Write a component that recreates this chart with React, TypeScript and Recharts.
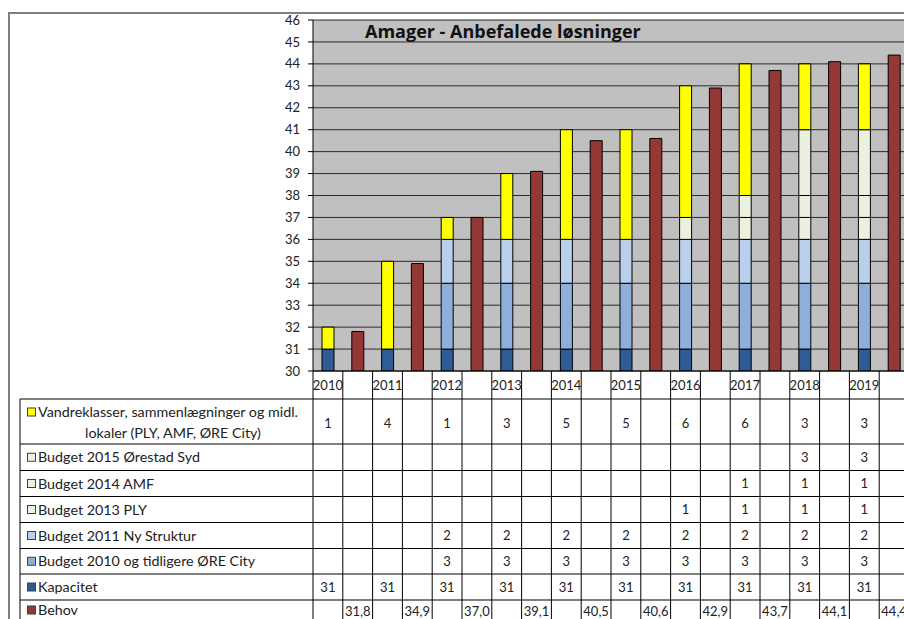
import React from "react";
import { ComposedChart, Bar, XAxis, YAxis, CartesianGrid } from "recharts";

// ---------- data ----------
const years = ["2010", "2011", "2012", "2013", "2014", "2015", "2016", "2017", "2018", "2019"];
const vandreklasser = [1, 4, 1, 3, 5, 5, 6, 6, 3, 3];
const budget2015 = [null, null, null, null, null, null, null, null, 3, 3];
const budget2014 = [null, null, null, null, null, null, null, 1, 1, 1];
const budget2013 = [null, null, null, null, null, null, 1, 1, 1, 1];
const budget2011 = [null, null, 2, 2, 2, 2, 2, 2, 2, 2];
const budget2010 = [null, null, 3, 3, 3, 3, 3, 3, 3, 3];
const kapacitet = [31, 31, 31, 31, 31, 31, 31, 31, 31, 31];
const behov = [31.8, 34.9, 37.0, 39.1, 40.5, 40.6, 42.9, 43.7, 44.1, 44.4];
const yTicks = [30, 31, 32, 33, 34, 35, 36, 37, 38, 39, 40, 41, 42, 43, 44, 45, 46];
const title = "Amager - Anbefalede løsninger";

type Series = { key: string; name: string[]; values: (number | null)[]; color: string };

// stacking order bottom -> top
const stackSeries: Series[] = [
  { key: "kap", name: ["Kapacitet"], values: kapacitet, color: "#2f5b97" },
  { key: "b2010", name: ["Budget 2010 og tidligere ØRE City"], values: budget2010, color: "#8fafdb" },
  { key: "b2011", name: ["Budget 2011 Ny Struktur"], values: budget2011, color: "#b9cfeb" },
  { key: "b2013", name: ["Budget 2013 PLY"], values: budget2013, color: "#ebf1de" },
  { key: "b2014", name: ["Budget 2014 AMF"], values: budget2014, color: "#ebf1de" },
  { key: "b2015", name: ["Budget 2015 Ørestad Syd"], values: budget2015, color: "#ebf1de" },
  {
    key: "vandre",
    name: ["Vandreklasser, sammenlægninger og midl.", "lokaler (PLY, AMF, ØRE City)"],
    values: vandreklasser,
    color: "#ffff00",
  },
];
const behovSeries: Series = { key: "behov", name: ["Behov"], values: behov, color: "#953735" };

// table rows top -> bottom
const tableRows: Series[] = [
  stackSeries[6],
  stackSeries[5],
  stackSeries[4],
  stackSeries[3],
  stackSeries[2],
  stackSeries[1],
  stackSeries[0],
  behovSeries,
];

// build chart rows: each year has a stacked slot and a "behov" slot
const data: any[] = [];
years.forEach((y, i) => {
  const row: any = { slot: y };
  stackSeries.forEach((s) => (row[s.key] = s.values[i]));
  data.push(row);
  data.push({ slot: y + "-behov", behov: behov[i] });
});

// ---------- layout ----------
const CHART_W = 911;
const CHART_H = 619;
const MARGIN = { top: 20, right: 2, bottom: 220, left: 253 };
const Y_AXIS_W = 60;
const X_AXIS_H = 28;
const PLOT_LEFT = MARGIN.left + Y_AXIS_W;
const PLOT_W = CHART_W - PLOT_LEFT - MARGIN.right;
const BAND = PLOT_W / data.length;
const PLOT_BOTTOM = CHART_H - MARGIN.bottom - X_AXIS_H;
const ROW_LINES = [399, 444, 470.5, 496.5, 522.5, 548.5, 574, 600, 640];
const TABLE_LEFT = 20;
const FONT = "Lato, 'Noto Sans', sans-serif";
const TXT = "#222";
const LEG_FS = 14.3;

const fmt = (v: number | null, isBehov: boolean) =>
  v == null ? "" : isBehov ? v.toFixed(1).replace(".", ",") : String(v);

const TableTick = (props: any) => {
  const { x, index } = props;
  const isBehov = index % 2 === 1;
  const yi = Math.floor(index / 2);
  const left = x - BAND / 2;
  const els: React.ReactNode[] = [];
  els.push(
    <line key="vl" x1={left} x2={left} y1={PLOT_BOTTOM} y2={CHART_H} stroke="#000" strokeWidth={1} />
  );
  if (index === data.length - 1) {
    els.push(
      <line key="vr" x1={left + BAND} x2={left + BAND} y1={PLOT_BOTTOM} y2={CHART_H} stroke="#000" />
    );
  }
  if (!isBehov) {
    els.push(
      <text key="yr" x={x} y={(PLOT_BOTTOM + ROW_LINES[0]) / 2 + 5} textAnchor="middle" fontSize={13} fill={TXT} fontFamily={FONT}>
        {years[yi]}
      </text>
    );
  }
  tableRows.forEach((r, ri) => {
    const rowIsBehov = r.key === "behov";
    if (rowIsBehov !== isBehov) return;
    const v = r.values[yi];
    const cy = ri === 0 ? 423 : (ROW_LINES[ri] + ROW_LINES[ri + 1]) / 2;
    const cyy = ri === tableRows.length - 1 ? 611 : cy;
    els.push(
      <text key={"v" + ri} x={x} y={cyy + 4.5} textAnchor="middle" fontSize={13} fill={TXT} fontFamily={FONT}>
        {fmt(v, rowIsBehov)}
      </text>
    );
  });
  if (index === 0) {
    ROW_LINES.slice(0, -1).forEach((ly, li) =>
      els.push(<line key={"h" + li} x1={TABLE_LEFT} x2={CHART_W} y1={ly} y2={ly} stroke="#000" />)
    );
    els.push(<line key="tl" x1={TABLE_LEFT} x2={TABLE_LEFT} y1={ROW_LINES[0]} y2={CHART_H} stroke="#000" />);
    tableRows.forEach((r, ri) => {
      const top = ROW_LINES[ri];
      const bottom = ROW_LINES[ri + 1];
      const cy = ri === 0 ? 412 : ri === tableRows.length - 1 ? 610 : (top + bottom) / 2;
      els.push(
        <rect key={"m" + ri} x={27.5} y={cy - 4} width={8} height={8} fill={r.color} stroke="#404040" strokeWidth={1} />
      );
      els.push(
        <text key={"n" + ri} x={38} y={cy + 5} fontSize={LEG_FS} fill={TXT} fontFamily={FONT}>
          {r.name[0]}
        </text>
      );
      if (r.name.length > 1) {
        els.push(
          <text key={"n2" + ri} x={173} y={433 + 5} textAnchor="middle" fontSize={LEG_FS} fill={TXT} fontFamily={FONT}>
            {r.name[1]}
          </text>
        );
      }
    });
  }
  return <g>{els}</g>;
};

export default function App() {
  return (
    <div
      style={{
        position: "absolute",
        left: 0,
        top: 0,
        width: 904,
        height: 619,
        overflow: "hidden",
        background: "#fff",
      }}
    >
      <ComposedChart width={CHART_W} height={CHART_H} data={data} margin={MARGIN}>
        <CartesianGrid horizontal vertical={false} fill="#c0c0c0" stroke="#2a2a2a" strokeOpacity={1} />
        <YAxis
          type="number"
          domain={[30, 46]}
          ticks={yTicks}
          allowDataOverflow
          width={Y_AXIS_W}
          interval={0}
          tickSize={5}
          tickMargin={8}
          axisLine={{ stroke: "#000" }}
          tickLine={{ stroke: "#000" }}
          tick={{ fontSize: 13, fill: TXT, fontFamily: FONT }}
        />
        <XAxis
          dataKey="slot"
          height={X_AXIS_H}
          interval={0}
          tickLine={false}
          axisLine={{ stroke: "#000" }}
          tick={(p: any) => <TableTick {...p} />}
        />
        {stackSeries.map((s) => (
          <Bar
            key={s.key}
            dataKey={s.key}
            stackId="a"
            fill={s.color}
            stroke="#000"
            strokeWidth={1}
            barSize={12}
            isAnimationActive={false}
          />
        ))}
        <Bar
          dataKey="behov"
          stackId="a"
          fill={behovSeries.color}
          stroke="#000"
          strokeWidth={1}
          barSize={12}
          isAnimationActive={false}
        />
      </ComposedChart>
      <div
        style={{
          position: "absolute",
          left: 8,
          top: 12,
          width: 1000,
          height: 700,
          borderTop: "2px solid #7f7f7f",
          borderLeft: "2px solid #7f7f7f",
          pointerEvents: "none",
        }}
      />
      <div
        style={{
          position: "absolute",
          left: 365,
          top: 19,
          fontFamily: "'Open Sans', Lato, sans-serif",
          fontWeight: "bold",
          fontSize: 18,
          lineHeight: "24px",
          color: "#111",
          whiteSpace: "nowrap",
        }}
      >
        {title}
      </div>
    </div>
  );
}
